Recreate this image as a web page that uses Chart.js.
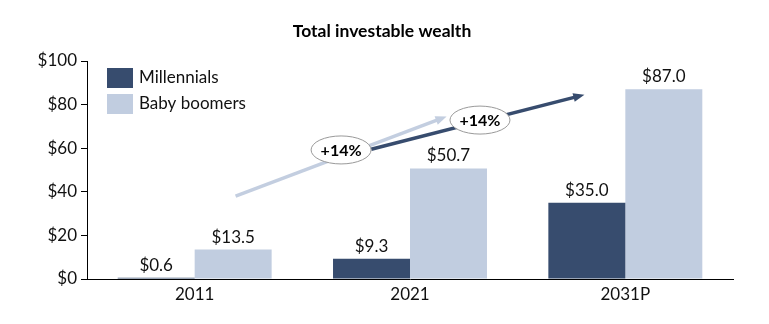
<!DOCTYPE html>
<html>
<head>
<meta charset="utf-8">
<script src="https://cdn.jsdelivr.net/npm/chart.js@4"></script>
<style>
  html, body { margin: 0; padding: 0; background: #fff; }
  #wrap { width: 769px; height: 324px; }
</style>
</head>
<body>
<div id="wrap"><canvas id="myChart" width="769" height="324"></canvas></div>
<script>
const categories = ["2011", "2021", "2031P"];
const millennials = [0.6, 9.3, 35.0];
const boomers = [13.5, 50.7, 87.0];
const seriesNames = ["Millennials", "Baby boomers"];
const yTicks = [0, 20, 40, 60, 80, 100];

// growth arrows: [category position, value] for start and end
const arrows = [
    { from: [0.19, 38], to: [1.17, 74.5], color: '#c3cee0' },
    { from: [0.82, 59.5], to: [1.81, 84.5], color: '#374c6e' }
];
const bubbles = [
    { at: [0.68, 59.2], text: '+14%' },
    { at: [1.325, 72.9], text: '+14%' }
];

const FONT = "Lato, 'Open Sans', sans-serif";
const navy = '#374c6e';
const light = '#c1cde0';

const overlay = {
    id: 'overlay',
    afterDatasetsDraw(chart) {
        const ctx = chart.ctx;
        const xs = chart.scales.x, ys = chart.scales.y;
        const area = chart.chartArea;

        // value labels
        ctx.save();
        ctx.font = '17px ' + FONT;
        ctx.fillStyle = '#111';
        ctx.textAlign = 'center';
        ctx.textBaseline = 'bottom';
        chart.data.datasets.forEach((ds, i) => {
            chart.getDatasetMeta(i).data.forEach((bar, j) => {
                ctx.fillText('$' + ds.data[j].toFixed(1), bar.x, bar.y - 4);
            });
        });
        ctx.restore();

        // legend
        ctx.save();
        ctx.font = '17px ' + FONT;
        ctx.textBaseline = 'middle';
        chart.data.datasets.forEach((ds, i) => {
            const y = area.top + 7 + i * 26;
            ctx.fillStyle = ds.backgroundColor;
            ctx.fillRect(area.left + 20, y, 26, 20);
            ctx.fillStyle = '#111';
            ctx.fillText(ds.label, area.left + 52, y + 10);
        });
        ctx.restore();

        // arrows
        arrows.forEach(a => {
            const x1 = xs.getPixelForValue(a.from[0]), y1 = ys.getPixelForValue(a.from[1]);
            const x2 = xs.getPixelForValue(a.to[0]), y2 = ys.getPixelForValue(a.to[1]);
            const ang = Math.atan2(y2 - y1, x2 - x1);
            const head = 12;
            ctx.save();
            ctx.strokeStyle = a.color;
            ctx.fillStyle = a.color;
            ctx.lineWidth = 3.5;
            ctx.beginPath();
            ctx.moveTo(x1, y1);
            ctx.lineTo(x2 - Math.cos(ang) * head * 0.8, y2 - Math.sin(ang) * head * 0.8);
            ctx.stroke();
            ctx.beginPath();
            ctx.moveTo(x2, y2);
            ctx.lineTo(x2 - head * Math.cos(ang - 0.38), y2 - head * Math.sin(ang - 0.38));
            ctx.lineTo(x2 - head * Math.cos(ang + 0.38), y2 - head * Math.sin(ang + 0.38));
            ctx.closePath();
            ctx.fill();
            ctx.restore();
        });

        // bubbles
        bubbles.forEach(b => {
            const cx = xs.getPixelForValue(b.at[0]), cy = ys.getPixelForValue(b.at[1]);
            ctx.save();
            ctx.beginPath();
            ctx.ellipse(cx, cy, 30, 14, 0, 0, Math.PI * 2);
            ctx.fillStyle = '#fff';
            ctx.fill();
            ctx.lineWidth = 1;
            ctx.strokeStyle = '#999';
            ctx.stroke();
            ctx.font = 'bold 16px ' + FONT;
            ctx.fillStyle = '#000';
            ctx.textAlign = 'center';
            ctx.textBaseline = 'middle';
            ctx.fillText(b.text, cx, cy + 1);
            ctx.restore();
        });
    },
    afterDraw(chart) {
        const ctx = chart.ctx;
        ctx.save();
        ctx.font = 'bold 17.5px ' + FONT;
        ctx.fillStyle = '#000';
        ctx.textAlign = 'center';
        ctx.textBaseline = 'middle';
        ctx.fillText('Total investable wealth', 382, 31);
        ctx.restore();
    }
};

const data = {
    labels: categories,
    datasets: [
        { label: seriesNames[0], data: millennials, backgroundColor: navy },
        { label: seriesNames[1], data: boomers, backgroundColor: light }
    ]
};

const config = {
    type: 'bar',
    data: data,
    options: {
        responsive: false,
        animation: false,
        layout: { padding: { top: 61, right: 36, left: 0, bottom: 0 } },
        datasets: { bar: { categoryPercentage: 0.715, barPercentage: 1.0 } },
        scales: {
            x: {
                grid: { display: false, drawTicks: false },
                border: { display: true, color: '#000', width: 1 },
                ticks: { color: '#111', font: { family: FONT, size: 17 }, padding: 5 },
                afterFit(axis) { axis.height = 45; }
            },
            y: {
                min: 0,
                max: 100,
                afterBuildTicks(axis) { axis.ticks = yTicks.map(v => ({ value: v })); },
                grid: { drawOnChartArea: false, drawTicks: true, tickLength: 6, color: '#000' },
                border: { display: true, color: '#000', width: 1 },
                ticks: {
                    color: '#111',
                    font: { family: FONT, size: 17 },
                    padding: 4,
                    callback: v => '$' + v
                },
                afterFit(axis) { axis.width = 87; }
            }
        },
        plugins: {
            legend: { display: false },
            title: { display: false },
            tooltip: { enabled: false }
        }
    },
    plugins: [overlay]
};

var myChart = new Chart(document.getElementById('myChart'), config);
</script>
</body>
</html>
